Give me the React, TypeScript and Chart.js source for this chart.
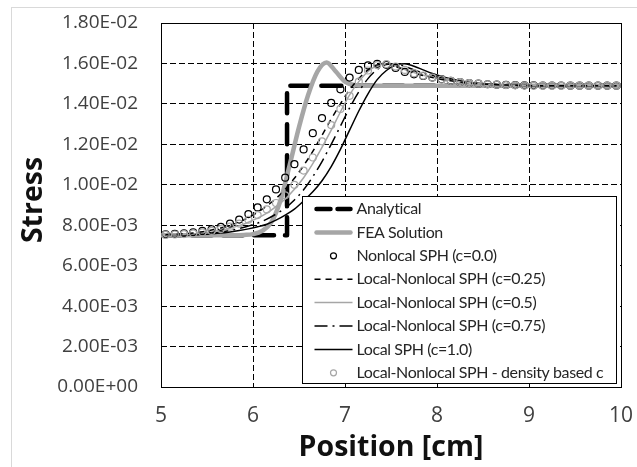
import React, { useEffect, useRef } from 'react';
import { Chart, registerables } from 'chart.js';

Chart.register(...registerables);

// Stress values are stored in units of 1e-3
const SCALE = 1e-3;

const analyticalX = [5, 6.37, 6.37, 10];
const analyticalE3 = [7.5, 7.5, 14.9, 14.9];

const feaX = [5.0, 5.5, 5.8, 5.9, 6.0, 6.1, 6.2, 6.3, 6.4, 6.5, 6.6, 6.7, 6.8, 6.9, 7.0, 7.1, 7.2, 7.5, 8.0, 9.0, 10.0];
const feaE3 = [7.5, 7.5, 7.5, 7.52, 7.56, 7.72, 8.15, 9.25, 11.0, 12.85, 14.45, 15.6, 16.05, 15.6, 15.1, 14.93, 14.9, 14.9, 14.9, 14.9, 14.9];

const sphX = [
  5.05, 5.15, 5.25, 5.35, 5.45, 5.55, 5.65, 5.75, 5.85, 5.95,
  6.05, 6.15, 6.25, 6.35, 6.45, 6.55, 6.65, 6.75, 6.85, 6.95,
  7.05, 7.15, 7.25, 7.35, 7.45, 7.55, 7.65, 7.75, 7.85, 7.95,
  8.05, 8.15, 8.25, 8.35, 8.45, 8.55, 8.65, 8.75, 8.85, 8.95,
  9.05, 9.15, 9.25, 9.35, 9.45, 9.55, 9.65, 9.75, 9.85, 9.95,
];

const nonlocalC0 = [
  7.55, 7.57, 7.60, 7.65, 7.72, 7.80, 7.92, 8.08, 8.28, 8.55,
  8.88, 9.28, 9.77, 10.35, 11.02, 11.75, 12.55, 13.3, 14.05, 14.72,
  15.3, 15.68, 15.9, 15.98, 15.93, 15.78, 15.58, 15.46, 15.38, 15.3,
  15.22, 15.14, 15.08, 15.03, 15.0, 14.97, 14.95, 14.94, 14.93, 14.92,
  14.92, 14.91, 14.91, 14.91, 14.9, 14.9, 14.9, 14.9, 14.9, 14.9,
];

const localNonlocalC025 = [
  7.53, 7.55, 7.58, 7.62, 7.68, 7.76, 7.86, 7.99, 8.16, 8.38,
  8.64, 8.95, 9.32, 9.78, 10.32, 10.95, 11.65, 12.45, 13.25, 14.0,
  14.7, 15.25, 15.68, 15.93, 15.97, 15.85, 15.68, 15.52, 15.4, 15.3,
  15.21, 15.14, 15.08, 15.03, 15.0, 14.97, 14.95, 14.93, 14.92, 14.91,
  14.9, 14.9, 14.9, 14.9, 14.9, 14.9, 14.9, 14.9, 14.9, 14.9,
];

const localNonlocalC05 = [
  7.51, 7.52, 7.54, 7.57, 7.61, 7.67, 7.75, 7.85, 7.98, 8.15,
  8.35, 8.6, 8.92, 9.3, 9.78, 10.35, 11.05, 11.85, 12.7, 13.6,
  14.45, 15.1, 15.6, 15.9, 15.98, 15.88, 15.7, 15.55, 15.42, 15.32,
  15.23, 15.15, 15.09, 15.04, 15.0, 14.97, 14.95, 14.93, 14.92, 14.91,
  14.9, 14.9, 14.9, 14.9, 14.9, 14.9, 14.9, 14.9, 14.9, 14.9,
];

const localNonlocalC075 = [
  7.5, 7.51, 7.52, 7.54, 7.57, 7.61, 7.67, 7.74, 7.84, 7.96,
  8.1, 8.3, 8.55, 8.85, 9.25, 9.75, 10.4, 11.15, 12.0, 12.9,
  13.8, 14.6, 15.25, 15.7, 15.95, 15.98, 15.85, 15.68, 15.52, 15.4,
  15.28, 15.18, 15.1, 15.04, 15.0, 14.97, 14.95, 14.93, 14.92, 14.91,
  14.9, 14.9, 14.9, 14.9, 14.9, 14.9, 14.9, 14.9, 14.9, 14.9,
];

const localC1 = [
  7.5, 7.5, 7.51, 7.52, 7.54, 7.57, 7.61, 7.67, 7.74, 7.82,
  7.92, 8.05, 8.25, 8.5, 8.8, 9.2, 9.65, 10.2, 10.9, 11.75,
  12.7, 13.65, 14.5, 15.2, 15.65, 15.92, 15.98, 15.86, 15.68, 15.5,
  15.36, 15.24, 15.14, 15.07, 15.02, 14.98, 14.96, 14.94, 14.92, 14.91,
  14.9, 14.9, 14.9, 14.9, 14.9, 14.9, 14.9, 14.9, 14.9, 14.9,
];

const densityBased = [
  7.52, 7.54, 7.56, 7.6, 7.65, 7.72, 7.81, 7.93, 8.08, 8.27,
  8.5, 8.78, 9.1, 9.48, 10.0, 10.7, 11.35, 12.15, 12.95, 13.75,
  14.4, 15.1, 15.65, 15.92, 15.97, 15.85, 15.68, 15.52, 15.4, 15.3,
  15.21, 15.14, 15.08, 15.03, 15.0, 14.97, 14.95, 14.93, 14.92, 14.91,
  14.9, 14.9, 14.9, 14.9, 14.9, 14.9, 14.9, 14.9, 14.9, 14.9,
];

const xTickValues = [5, 6, 7, 8, 9, 10];
const xTickLabels = ['5', '6', '7', '8', '9', '10'];
const yTickValues = [0, 0.002, 0.004, 0.006, 0.008, 0.01, 0.012, 0.014, 0.016, 0.018];
const yTickLabels = ['0.00E+00', '2.00E-03', '4.00E-03', '6.00E-03', '8.00E-03', '1.00E-02', '1.20E-02', '1.40E-02', '1.60E-02', '1.80E-02'];

const yAxisTitle = 'Stress';
const xAxisTitle = 'Position [cm]';

const seriesLabels = [
  'Analytical',
  'FEA Solution',
  'Nonlocal SPH (c=0.0)',
  'Local-Nonlocal SPH (c=0.25)',
  'Local-Nonlocal SPH (c=0.5)',
  'Local-Nonlocal SPH (c=0.75)',
  'Local SPH (c=1.0)',
  'Local-Nonlocal SPH - density based c',
];

const GREY = '#a6a6a6';
const FONT = '"Open Sans", sans-serif';
const LEGEND_FONT = 'Lato, "Open Sans", sans-serif';

const pts = (xs: number[], ys: number[]) => xs.map((x, i) => ({ x, y: ys[i] * SCALE }));

const legendStyles = [
  { kind: 'line', color: '#000', width: 4.5, dash: [14, 7], cap: 'round' },
  { kind: 'line', color: GREY, width: 4.5, dash: [], cap: 'round' },
  { kind: 'point', color: '#000' },
  { kind: 'line', color: '#000', width: 1.5, dash: [6, 5], cap: 'butt' },
  { kind: 'line', color: GREY, width: 1.5, dash: [], cap: 'butt' },
  { kind: 'line', color: '#000', width: 1.5, dash: [13, 5, 2, 5], cap: 'butt' },
  { kind: 'line', color: '#000', width: 1.5, dash: [], cap: 'butt' },
  { kind: 'point', color: GREY },
];

const framePlugin = {
  id: 'frameAndLegend',
  beforeDraw(chart: any) {
    const ctx = chart.ctx;
    ctx.save();
    ctx.fillStyle = '#fff';
    ctx.fillRect(0, 0, chart.width, chart.height);
    ctx.strokeStyle = '#d9d9d9';
    ctx.lineWidth = 1;
    ctx.strokeRect(11.5, 7.5, chart.width + 20, chart.height + 20);
    ctx.restore();
  },
  beforeDatasetsDraw(chart: any) {
    const { left, top, right, bottom } = chart.chartArea;
    const ctx = chart.ctx;
    ctx.save();
    ctx.strokeStyle = '#000';
    ctx.lineWidth = 1;
    ctx.strokeRect(Math.round(left) + 0.5, Math.round(top) + 0.5, Math.round(right - left), Math.round(bottom - top));
    // y-axis title, placed as in the reference
    ctx.translate(34, (top + bottom) / 2 - 5);
    ctx.rotate(-Math.PI / 2);
    ctx.font = `bold 28.5px ${FONT}`;
    ctx.fillStyle = '#111';
    ctx.textAlign = 'center';
    ctx.textBaseline = 'middle';
    ctx.fillText(yAxisTitle, 0, 0);
    ctx.restore();
  },
  afterDraw(chart: any) {
    const { left, top, right, bottom } = chart.chartArea;
    const ctx = chart.ctx;
    const bx = Math.round(left + 141) + 0.5;
    const by = Math.round(top + 173) + 0.5;
    const bw = Math.round(right - 5 - bx);
    const bh = Math.round(bottom - 4 - by);
    ctx.save();
    ctx.fillStyle = '#fff';
    ctx.fillRect(bx, by, bw, bh);
    ctx.strokeStyle = '#000';
    ctx.lineWidth = 1;
    ctx.strokeRect(bx, by, bw, bh);
    ctx.font = `16px ${LEGEND_FONT}`;
    try {
      (ctx as any).letterSpacing = '-0.4px';
    } catch (e) {
      /* ignore */
    }
    ctx.textBaseline = 'middle';
    ctx.textAlign = 'left';
    seriesLabels.forEach((label, i) => {
      const y = by + 12.5 + i * 23.4;
      const st: any = legendStyles[i];
      if (st.kind === 'line') {
        ctx.save();
        ctx.strokeStyle = st.color;
        ctx.lineWidth = st.width;
        ctx.setLineDash(st.dash);
        ctx.lineCap = st.cap;
        ctx.beginPath();
        ctx.moveTo(bx + 12 + (st.cap === 'round' ? 2 : 0), y);
        ctx.lineTo(bx + 50 - (st.cap === 'round' ? 2 : 0), y);
        ctx.stroke();
        ctx.restore();
      } else {
        ctx.save();
        ctx.strokeStyle = st.color;
        ctx.lineWidth = 1.2;
        ctx.beginPath();
        ctx.arc(bx + 31, y, 3, 0, Math.PI * 2);
        ctx.stroke();
        ctx.restore();
      }
      ctx.fillStyle = '#262626';
      ctx.fillText(label, bx + 54, y);
    });
    ctx.restore();
  },
};

export default function App() {
  const ref = useRef<HTMLCanvasElement | null>(null);

  useEffect(() => {
    if (!ref.current) return;
    const lineDs = (label: string, ys: number[], color: string, width: number, dash: number[], order: number) => ({
      label,
      data: pts(sphX, ys),
      borderColor: color,
      backgroundColor: color,
      borderWidth: width,
      borderDash: dash,
      pointRadius: 0,
      cubicInterpolationMode: 'monotone' as const,
      order,
    });
    const pointDs = (label: string, ys: number[], color: string, order: number) => ({
      label,
      data: pts(sphX, ys),
      borderColor: color,
      backgroundColor: 'rgba(0,0,0,0)',
      pointBorderColor: color,
      pointBackgroundColor: 'rgba(0,0,0,0)',
      pointBorderWidth: 1.2,
      pointRadius: 3.5,
      showLine: false,
      order,
    });

    const chart = new Chart(ref.current, {
      type: 'line',
      data: {
        datasets: [
          {
            label: seriesLabels[0],
            data: pts(analyticalX, analyticalE3),
            borderColor: '#000',
            borderWidth: 4.5,
            borderDash: [20, 11],
            borderCapStyle: 'round',
            borderJoinStyle: 'round',
            pointRadius: 0,
            tension: 0,
            order: 9,
          },
          {
            label: seriesLabels[1],
            data: pts(feaX, feaE3),
            borderColor: GREY,
            borderWidth: 4.5,
            pointRadius: 0,
            cubicInterpolationMode: 'monotone',
            order: 8,
          },
          pointDs(seriesLabels[2], nonlocalC0, '#000', 2),
          lineDs(seriesLabels[3], localNonlocalC025, '#000', 1.5, [6, 5], 4),
          lineDs(seriesLabels[4], localNonlocalC05, GREY, 1.5, [], 5),
          lineDs(seriesLabels[5], localNonlocalC075, '#000', 1.5, [13, 5, 2, 5], 6),
          lineDs(seriesLabels[6], localC1, '#000', 1.5, [], 7),
          pointDs(seriesLabels[7], densityBased, GREY, 1),
        ] as any,
      },
      options: {
        animation: false,
        responsive: false,
        devicePixelRatio: 1,
        layout: { padding: { top: 23, right: 16, left: 0, bottom: 0 } },
        plugins: { legend: { display: false }, tooltip: { enabled: false } },
        scales: {
          x: {
            type: 'linear',
            min: 5,
            max: 10,
            afterBuildTicks: (s: any) => {
              s.ticks = xTickValues.map((v) => ({ value: v }));
            },
            afterFit: (s: any) => {
              s.height = 80;
              s.paddingLeft = 0;
              s.paddingRight = 0;
              s.paddingTop = 0;
              s.paddingBottom = 0;
            },
            ticks: {
              autoSkip: false,
              maxRotation: 0,
              padding: 16,
              color: '#404040',
              font: { family: FONT, size: 21 },
              callback: (_v: any, i: number) => xTickLabels[i],
            },
            grid: { color: '#000', lineWidth: 1, drawTicks: false },
            border: { display: false, dash: [6, 3] },
            title: {
              display: true,
              text: xAxisTitle,
              color: '#111',
              font: { family: FONT, size: 28.5, weight: 'bold' },
              padding: { top: 0, bottom: 2 },
            },
          },
          y: {
            type: 'linear',
            min: 0,
            max: 0.018,
            afterBuildTicks: (s: any) => {
              s.ticks = yTickValues.map((v) => ({ value: v }));
            },
            afterFit: (s: any) => {
              s.width = 161;
              s.paddingLeft = 0;
              s.paddingRight = 0;
              s.paddingTop = 0;
              s.paddingBottom = 0;
            },
            ticks: {
              autoSkip: false,
              padding: 23,
              color: '#404040',
              font: { family: FONT, size: 19 },
              callback: (_v: any, i: number) => yTickLabels[i],
            },
            grid: { color: '#000', lineWidth: 1, drawTicks: false },
            border: { display: false, dash: [6, 3] },
            title: { display: false },
          },
        },
      } as any,
      plugins: [framePlugin],
    });
    return () => chart.destroy();
  }, []);

  return (
    <div style={{ position: 'absolute', left: 0, top: 0, width: 637, height: 467 }}>
      <canvas ref={ref} width={637} height={467} style={{ display: 'block' }} />
    </div>
  );
}
